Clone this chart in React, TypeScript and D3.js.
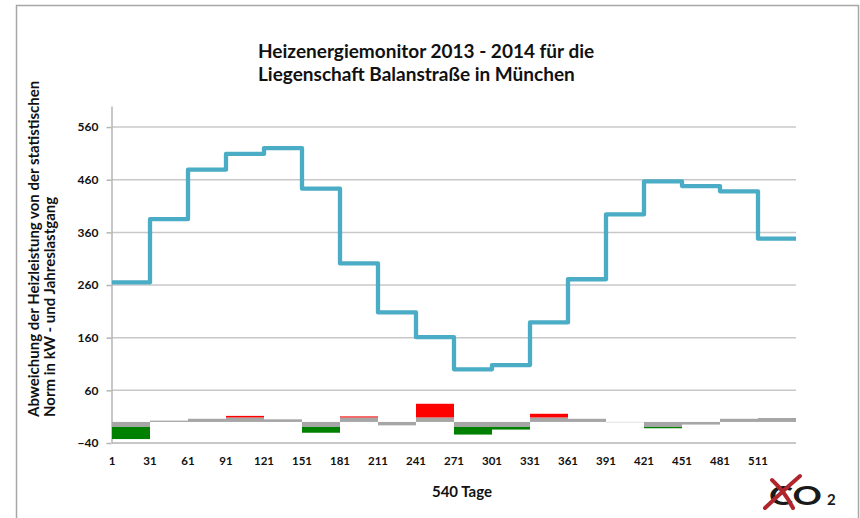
import React, { useEffect, useRef } from 'react';
import * as d3 from 'd3';

// 30-Tage-Perioden (Starttag), Ende der Reihe
const periodStarts = [1, 31, 61, 91, 121, 151, 181, 211, 241, 271, 301, 331, 361, 391, 421, 451, 481, 511];
const lastDay = 541;
const xTickLabels = ['1', '31', '61', '91', '121', '151', '181', '211', '241', '271', '301', '331', '361', '391', '421', '451', '481', '511'];
const yTicks = [-40, 60, 160, 260, 360, 460, 560];

// Abweichung der Heizleistung (blaue Linie)
const heatDeviation = [265, 385, 479, 509, 520, 443, 301, 208, 161, 100, 108, 189, 271, 394, 457, 448, 438, 348];
// Jahreslastgang (grau)
const loadProfile = [-9.5, 2.5, 6, 8.5, 5, -9.5, 8.5, -6.5, 8.5, -9.5, -9.5, 8.5, 6, -0.6, -9.5, -5, 6, 7.5];
// Mehrverbrauch (rot) / Minderverbrauch (grün)
const surplus = [0, 0, 0, 3, 0, 0, 2, 0, 26, 0, 0, 7, 0, 0, 0, 0, 0, 0];
const deficit = [-23, 0, 0, 0, 0, -11, 0, 0, 0, -14.5, -5, 0, 0, 0, -2.5, 0, 0, 0];

const FONT = 'Lato, "Open Sans", sans-serif';

export default function App() {
  const ref = useRef<SVGSVGElement>(null);

  useEffect(() => {
    const svg = d3.select(ref.current);
    svg.selectAll('*').remove();

    const x = d3.scaleLinear().domain([1, lastDay]).range([112, 796]);
    const y = d3.scaleLinear().domain([-40, 600]).range([443, 106]);

    // Rahmen
    svg.append('rect')
      .attr('x', 16.5).attr('y', 5.5)
      .attr('width', 842).attr('height', 540)
      .attr('fill', 'none').attr('stroke', '#a6a6a6').attr('stroke-width', 1.5);

    // Titel
    const title = svg.append('text')
      .attr('font-family', FONT).attr('font-weight', 700).attr('font-size', 19).attr('fill', '#111');
    title.append('tspan').attr('x', 258).attr('y', 58).text('Heizenergiemonitor 2013 - 2014 für die');
    title.append('tspan').attr('x', 258).attr('y', 81).text('Liegenschaft Balanstraße in München');

    // Gitterlinien
    svg.append('g').selectAll('line').data(yTicks).join('line')
      .attr('x1', x(1)).attr('x2', x(lastDay))
      .attr('y1', d => y(d)).attr('y2', d => y(d))
      .attr('stroke', d => (d === -40 ? '#b5b5b5' : '#c8c8c8'))
      .attr('stroke-width', 1.5);

    // y-Achse
    const yAxis = d3.axisLeft(y).tickValues(yTicks).tickSize(5).tickSizeOuter(0).tickPadding(8);
    const gy = svg.append('g').attr('transform', `translate(${x(1) - 0.5},0)`).call(yAxis);
    gy.select('.domain').attr('stroke', '#b5b5b5').attr('stroke-width', 1.5);
    gy.selectAll('.tick line').attr('stroke', '#b5b5b5').attr('stroke-width', 1.5);
    gy.selectAll('.tick text')
      .attr('font-family', FONT).attr('font-weight', 700).attr('font-size', 12).attr('fill', '#111');

    // x-Beschriftung
    svg.append('g').selectAll('text').data(periodStarts).join('text')
      .attr('x', d => x(d)).attr('y', 465)
      .attr('text-anchor', 'middle')
      .attr('font-family', FONT).attr('font-weight', 700).attr('font-size', 11.5).attr('fill', '#111')
      .text((d, i) => xTickLabels[i]);

    svg.append('text')
      .attr('x', 462).attr('y', 497).attr('text-anchor', 'middle')
      .attr('font-family', FONT).attr('font-weight', 700).attr('font-size', 15).attr('fill', '#111')
      .text('540 Tage');

    // y-Titel
    const yl = svg.append('g').attr('font-family', FONT).attr('font-weight', 700).attr('font-size', 15).attr('fill', '#111');
    yl.append('text').attr('transform', 'translate(39,417) rotate(-90)').text('Abweichung der Heizleistung von der statistischen');
    yl.append('text').attr('transform', 'translate(55,417) rotate(-90)').text('Norm in kW - und Jahreslastgang');

    // Balken
    const bw = (i: number) => x(periodStarts[i] + 30) - x(periodStarts[i]);
    const bars = svg.append('g');
    const seg = (vals: number[], base: (i: number) => number, color: string) => {
      bars.append('g').selectAll('rect').data(vals).join('rect')
        .attr('x', (d, i) => x(periodStarts[i]))
        .attr('width', (d, i) => bw(i))
        .attr('y', (d, i) => Math.min(y(base(i)), y(base(i) + d)))
        .attr('height', (d, i) => Math.abs(y(base(i) + d) - y(base(i))))
        .attr('fill', color);
    };
    seg(loadProfile, () => 0, '#a6a6a6');
    seg(surplus, i => Math.max(loadProfile[i], 0), '#ff0000');
    seg(deficit, i => Math.min(loadProfile[i], 0), '#008000');

    // Linie
    const pts: [number, number][] = periodStarts.map((d, i) => [d, heatDeviation[i]]);
    pts.push([lastDay, heatDeviation[heatDeviation.length - 1]]);
    const line = d3.line<[number, number]>()
      .x(d => x(d[0])).y(d => y(d[1]))
      .curve(d3.curveStepAfter);
    svg.append('path')
      .datum(pts)
      .attr('fill', 'none').attr('stroke', '#4bacc6').attr('stroke-width', 4.3)
      .attr('stroke-linejoin', 'round')
      .attr('d', line);

    // Logo
    const logo = svg.append('g');
    logo.append('text')
      .attr('transform', 'translate(769,505) scale(1.4,1)')
      .attr('font-family', FONT).attr('font-weight', 700).attr('font-size', 26).attr('fill', '#1a1a1a')
      .text('CO');
    logo.append('text')
      .attr('x', 827).attr('y', 505)
      .attr('font-family', FONT).attr('font-weight', 700).attr('font-size', 15).attr('fill', '#1a1a1a')
      .text('2');
    logo.append('path')
      .attr('d', 'M800,476 Q784,490 765,508 M772,480 Q785,492 793,508')
      .attr('fill', 'none').attr('stroke', '#b0262c').attr('stroke-width', 4).attr('stroke-linecap', 'round');
  }, []);

  return (
    <svg ref={ref} width={860} height={518}
      style={{ position: 'absolute', left: 0, top: 0, background: '#fff' }} />
  );
}
